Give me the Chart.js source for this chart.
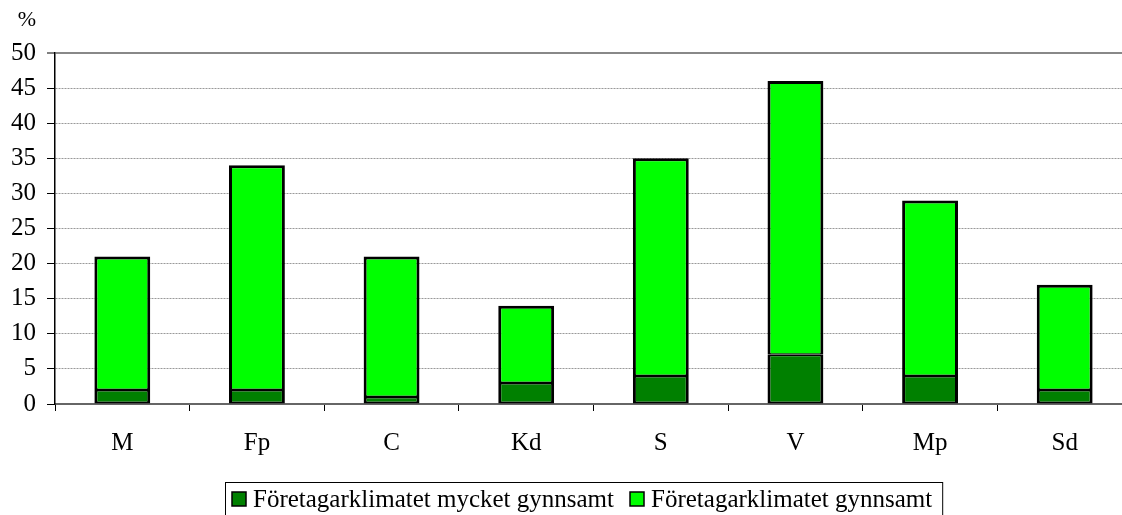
<!DOCTYPE html>
<html lang="sv">
<head>
    <meta charset="UTF-8">
    <title>Företagarklimatet</title>
    <script src="https://cdn.jsdelivr.net/npm/chart.js"></script>
    <style>
        html, body { margin: 0; padding: 0; background: #fff; overflow: hidden; }
        #wrap { width: 1132px; height: 515px; }
    </style>
</head>
<body>
    <div id="wrap"><canvas id="grafico" width="1132" height="515"></canvas></div>

    <script>
        // Data
        const kategorier = ['M', 'Fp', 'C', 'Kd', 'S', 'V', 'Mp', 'Sd'];
        const mycketGynnsamt = [2, 2, 1, 3, 4, 7, 4, 2];
        const gynnsamt = [19, 32, 20, 11, 31, 39, 25, 15];
        const serieNamn = ['Företagarklimatet mycket gynnsamt', 'Företagarklimatet gynnsamt'];
        const yEnhet = '%';

        const FONT = "'Liberation Serif', 'Times New Roman', serif";

        // "%" ovanför y-axeln + egen legend med ram
        const extraRitning = {
            id: 'extraRitning',
            afterDraw(chart) {
                const ctx = chart.ctx;
                ctx.save();
                ctx.fillStyle = '#000';
                ctx.font = '22px ' + FONT;
                ctx.textAlign = 'center';
                ctx.textBaseline = 'middle';
                ctx.fillText(yEnhet, 27, 20);

                // legend
                ctx.font = '25px ' + FONT;
                const box = 14, gapText = 7, gapItem = 16, padL = 7, padR = 10;
                const items = chart.data.datasets.map(ds => ({
                    text: ds.label, color: ds.backgroundColor, w: ctx.measureText(ds.label).width
                }));
                let total = padL + padR;
                items.forEach((it, i) => { total += box + gapText + it.w + (i ? gapItem : 0); });
                const left = Math.round(584 - total / 2);
                const top = 482;
                ctx.strokeStyle = '#000';
                ctx.lineWidth = 1;
                ctx.strokeRect(left + 0.5, top + 0.5, total, 60);
                let x = left + padL;
                const cy = 499;
                items.forEach((it, i) => {
                    if (i) x += gapItem;
                    ctx.fillStyle = it.color;
                    ctx.fillRect(x, cy - box / 2, box, box);
                    ctx.lineWidth = 1.5;
                    ctx.strokeRect(x, cy - box / 2, box, box);
                    x += box + gapText;
                    ctx.fillStyle = '#000';
                    ctx.textAlign = 'left';
                    ctx.fillText(it.text, x, cy + 1);
                    x += it.w;
                });
                ctx.restore();
            }
        };

        new Chart(document.getElementById('grafico'), {
            type: 'bar',
            data: {
                labels: kategorier,
                datasets: [
                    {
                        label: serieNamn[0],
                        data: mycketGynnsamt,
                        backgroundColor: '#008000',
                        borderColor: '#000',
                        borderWidth: { top: 1.5, left: 3, right: 3, bottom: 2 },
                        borderSkipped: false
                    },
                    {
                        label: serieNamn[1],
                        data: gynnsamt,
                        backgroundColor: '#00ff00',
                        borderColor: '#000',
                        borderWidth: { top: 3, left: 3, right: 3, bottom: 1.5 },
                        borderSkipped: false
                    }
                ]
            },
            options: {
                responsive: false,
                animation: false,
                layout: { padding: { left: 0, right: 0, top: 53, bottom: 40 } },
                plugins: {
                    legend: { display: false },
                    tooltip: { enabled: false }
                },
                datasets: { bar: { categoryPercentage: 1, barPercentage: 0.415 } },
                scales: {
                    x: {
                        stacked: true,
                        grid: { offset: true, drawOnChartArea: false, tickLength: 7, tickColor: '#000', tickWidth: 1 },
                        border: { color: '#666', width: 2 },
                        ticks: { color: '#000', font: { family: FONT, size: 25 }, padding: 17 }
                    },
                    y: {
                        stacked: true,
                        min: 0,
                        max: 50,
                        ticks: { stepSize: 5, color: '#000', font: { family: FONT, size: 25 }, padding: 11 },
                        grid: {
                            color: ctx => ctx.tick && ctx.tick.value === 0 ? 'rgba(0,0,0,0)' : (ctx.tick && ctx.tick.value === 50 ? '#888' : '#999'),
                            lineWidth: ctx => ctx.tick && ctx.tick.value === 50 ? 2 : 1,
                            tickLength: 8,
                            tickColor: '#000',
                            tickWidth: 1
                        },
                        border: {
                            color: '#000',
                            width: 1.5,
                            dash: ctx => ctx.tick && ctx.tick.value === 50 ? [] : [2, 1]
                        }
                    }
                }
            },
            plugins: [extraRitning]
        });
    </script>
</body>
</html>
